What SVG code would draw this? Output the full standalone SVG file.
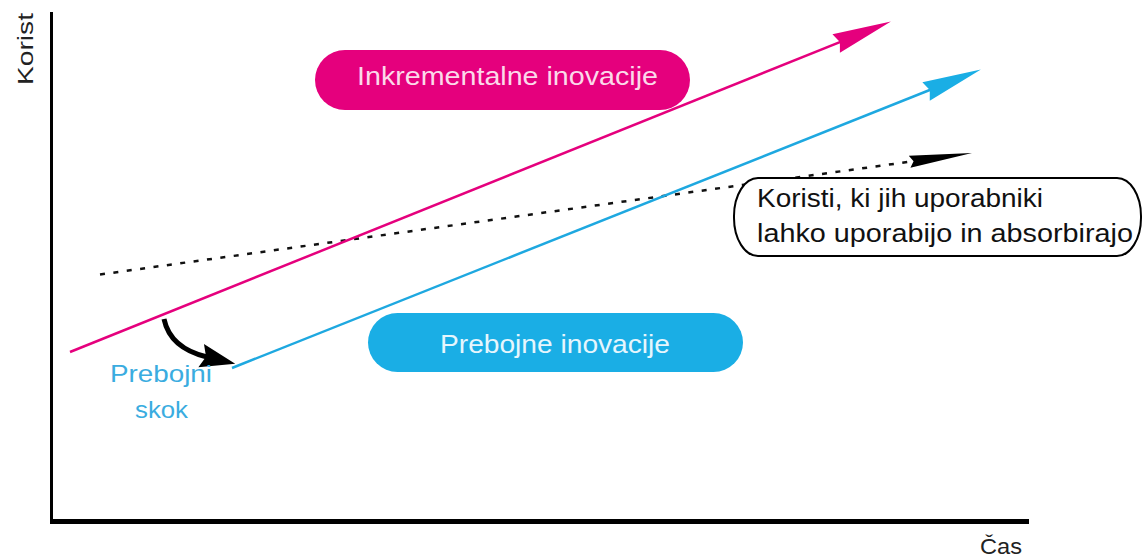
<svg xmlns="http://www.w3.org/2000/svg" width="1144" height="560" viewBox="0 0 1144 560">
  <defs>
    <style>
      text { font-family: "Liberation Sans", Arial, sans-serif; }
      .axis { stroke: #000; fill: none; }
      .lbl { fill: #222; font-size: 22px; }
      .btxt { font-size: 25px; }
      .pink { stroke: #e5007d; stroke-width: 2.5; fill: none; }
      .blue { stroke: #1ea8e0; stroke-width: 2.5; fill: none; }
      .dot { stroke: #111; stroke-width: 2.5; stroke-dasharray: 5 8.5; fill: none; }
    </style>
    <marker id="hPink" viewBox="-10 -12 64 24" markerWidth="64" markerHeight="24" refX="0" refY="0" orient="auto" markerUnits="userSpaceOnUse">
      <path d="M-8,-10 L51,0 L-8,10 L-4,0 Z" fill="#e5007d"/>
    </marker>
    <marker id="hBlue" viewBox="-10 -12 64 24" markerWidth="64" markerHeight="24" refX="0" refY="0" orient="auto" markerUnits="userSpaceOnUse">
      <path d="M-8,-10 L51,0 L-8,10 L-4,0 Z" fill="#1aaee5"/>
    </marker>
    <marker id="hBlack" viewBox="-12 -8 66 16" markerWidth="66" markerHeight="16" refX="0" refY="0" orient="auto" markerUnits="userSpaceOnUse">
      <path d="M-11,-6 L52,0 L-11,6 L-7,0 Z" fill="#000"/>
    </marker>
    <marker id="hCurve" viewBox="-8 -14 40 28" markerWidth="40" markerHeight="28" refX="0" refY="0" orient="auto" markerUnits="userSpaceOnUse">
      <path d="M-6,-12 L29,0 L-6,12 L-1,0 Z" fill="#000"/>
    </marker>
  </defs>
  <rect width="1144" height="560" fill="#fff"/>

  <g id="axes">
    <line class="axis" x1="51.5" y1="12" x2="51.5" y2="521" stroke-width="3"/>
    <line class="axis" x1="50" y1="521.5" x2="1029" y2="521.5" stroke-width="5"/>
    <text class="lbl" transform="translate(33,85) rotate(-90)" textLength="72" lengthAdjust="spacingAndGlyphs">Korist</text>
    <text class="lbl" x="980" y="554" font-size="20" textLength="42" lengthAdjust="spacingAndGlyphs">Čas</text>
  </g>

  <g id="connectors">
    <line class="dot" x1="100" y1="274.5" x2="920.5" y2="160.2" marker-end="url(#hBlack)"/>
    <line class="pink" x1="70" y1="352" x2="843.6" y2="40.6" marker-end="url(#hPink)"/>
    <line class="blue" x1="232" y1="368" x2="933.5" y2="88.5" marker-end="url(#hBlue)"/>
    <path d="M164,319 C168,338 182,351 207,357" stroke="#000" stroke-width="5" fill="none" marker-end="url(#hCurve)"/>
  </g>

  <g id="incremental">
    <rect x="315" y="50" width="375" height="60" rx="30" ry="30" fill="#e5007d"/>
    <text class="btxt" x="357" y="85" fill="#fbd9ea" textLength="301" lengthAdjust="spacingAndGlyphs">Inkrementalne inovacije</text>
  </g>

  <g id="breakthrough">
    <rect x="368" y="313" width="375" height="59" rx="29.5" ry="29.5" fill="#1aaee5"/>
    <text class="btxt" x="440" y="353" fill="#e6f6fd" textLength="230" lengthAdjust="spacingAndGlyphs">Prebojne inovacije</text>
  </g>

  <g id="jump-label">
    <text x="110" y="382" font-size="24" fill="#3aace0" textLength="102" lengthAdjust="spacingAndGlyphs">Prebojni</text>
    <text x="135" y="418" font-size="24" fill="#3aace0" textLength="53" lengthAdjust="spacingAndGlyphs">skok</text>
  </g>

  <g id="absorb">
    <rect x="734" y="178" width="407" height="78" rx="24" ry="38" fill="#fff" stroke="#000" stroke-width="2"/>
    <text x="757" y="207" font-size="25" fill="#111" textLength="286" lengthAdjust="spacingAndGlyphs">Koristi, ki jih uporabniki</text>
    <text x="757" y="242" font-size="25" fill="#111" textLength="376" lengthAdjust="spacingAndGlyphs">lahko uporabijo in absorbirajo</text>
  </g>
</svg>
